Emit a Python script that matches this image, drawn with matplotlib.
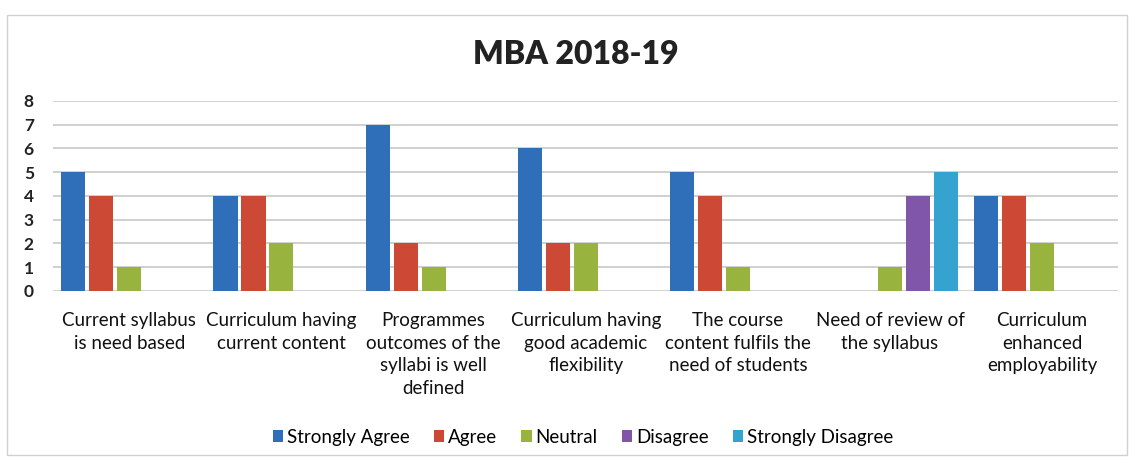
import matplotlib.pyplot as plt
import numpy as np
from matplotlib.patches import Rectangle

categories = [
    "Current syllabus\nis need based",
    "Curriculum having\ncurrent content",
    "Programmes\noutcomes of the\nsyllabi is well\ndefined",
    "Curriculum having\ngood academic\nflexibility",
    "The course\ncontent fulfils the\nneed of students",
    "Need of review of\nthe syllabus",
    "Curriculum\nenhanced\nemployability",
]
series_names = ["Strongly Agree", "Agree", "Neutral", "Disagree", "Strongly Disagree"]
strongly_agree = [5, 4, 7, 6, 5, 0, 4]
agree = [4, 4, 2, 2, 4, 0, 4]
neutral = [1, 2, 1, 2, 1, 1, 2]
disagree = [0, 0, 0, 0, 0, 4, 0]
strongly_disagree = [0, 0, 0, 0, 0, 5, 0]
colors = ["#2f6fba", "#cc4a35", "#98b43f", "#7f56a8", "#35a3cf"]

plt.rcParams["font.family"] = ["Lato", "DejaVu Sans"]
fig = plt.figure(figsize=(11.34, 4.61), dpi=100)
ax = fig.add_axes([0.047, 0.369, 0.939, 0.412])

x = np.arange(len(categories))
slot = 0.184
width = 0.158
data = [strongly_agree, agree, neutral, disagree, strongly_disagree]
for i, (vals, name, c) in enumerate(zip(data, series_names, colors)):
    ax.bar(x + (i - 2) * slot, vals, width, color=c, label=name, zorder=3,
           edgecolor="none")

ax.set_xlim(-0.5, len(categories) - 0.5)
ax.set_ylim(0, 8)
ax.set_yticks(range(0, 9))
ax.yaxis.grid(True, color="#c8c8c8", linewidth=1.2, zorder=0)
for s in ax.spines.values():
    s.set_visible(False)
ax.tick_params(axis="y", length=0, pad=14, labelsize=12.5)
for t in ax.get_yticklabels():
    t.set_fontweight("bold")
    t.set_color("#222222")
ax.set_xticks(x)
ax.set_xticklabels(categories, fontsize=13.5, linespacing=1.42, color="#111111")
ax.tick_params(axis="x", length=0, pad=15)

fig.text(0.508, 0.882, "MBA 2018-19", ha="center", va="center",
         fontsize=23, fontweight="heavy", color="#222222")

leg = fig.legend(loc="center", bbox_to_anchor=(0.514, 0.052), ncol=5, frameon=False,
                 fontsize=13.5, handlelength=0.55, handleheight=0.55,
                 handletextpad=0.2, columnspacing=1.3)

fig.patches.append(Rectangle((0.006, 0.012), 0.988, 0.955, transform=fig.transFigure,
                             fill=False, edgecolor="#d0d0d0", linewidth=1))

fig.savefig("out.png", dpi=100, facecolor="white")
